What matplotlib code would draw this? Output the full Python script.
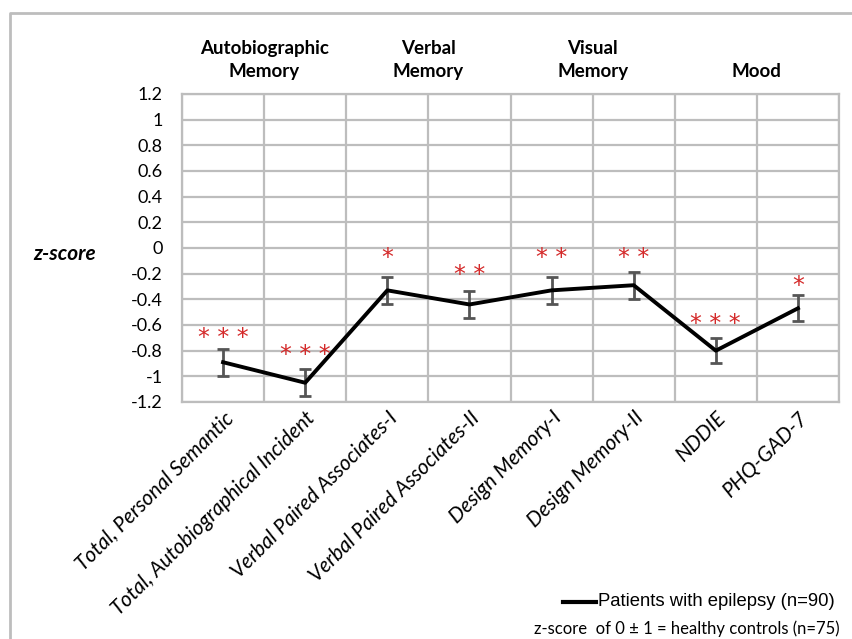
import matplotlib.pyplot as plt
from matplotlib.lines import Line2D

tests = ['Total, Personal Semantic', 'Total, Autobiographical Incident',
         'Verbal Paired Associates-I', 'Verbal Paired Associates-II',
         'Design Memory-I', 'Design Memory-II', 'NDDIE', 'PHQ-GAD-7']
zscore = [-0.89, -1.05, -0.33, -0.44, -0.33, -0.29, -0.80, -0.47]
err = [0.105, 0.105, 0.105, 0.105, 0.105, 0.105, 0.10, 0.10]
stars = ['***', '***', '*', '**', '**', '**', '***', '*']
star_y = [-0.70, -0.83, -0.08, -0.21, -0.08, -0.08, -0.59, -0.30]
groups = ['Autobiographic\nMemory', 'Verbal\nMemory', 'Visual\nMemory', 'Mood']

fig = plt.figure(figsize=(8.52, 6.39), dpi=100)
ax = fig.add_axes([182/852, 1-402/639, (839-182)/852, (402-94)/639])

x = list(range(len(tests)))
ax.errorbar(x, zscore, yerr=err, fmt='none', ecolor='#555555', elinewidth=2,
            capsize=4, capthick=2, zorder=3)
ax.plot(x, zscore, color='black', lw=2.8, zorder=4)
for i in x:
    ax.text(i, star_y[i], ' '.join(stars[i]),
            ha='center', va='center', color='#d42a2a', fontsize=17,
            family='DejaVu Sans')

ax.set_xlim(-0.5, 7.5)
ax.set_ylim(-1.2, 1.2)
ax.set_yticks([-1.2, -1, -0.8, -0.6, -0.4, -0.2, 0, 0.2, 0.4, 0.6, 0.8, 1, 1.2])
ax.set_yticklabels(['-1.2', '-1', '-0.8', '-0.6', '-0.4', '-0.2', '0', '0.2', '0.4',
                    '0.6', '0.8', '1', '1.2'], family='Lato', fontsize=13)
ax.set_xticks([i + 0.5 for i in range(-1, 8)], minor=True)
ax.set_xticks(x)
ax.set_xticklabels(tests, rotation=45, ha='right', rotation_mode='anchor',
                   style='italic', family='Lato', fontsize=15)
ax.tick_params(axis='x', which='both', length=0, pad=4)
ax.tick_params(axis='y', length=0, pad=14)
ax.grid(True, which='minor', axis='x', color='#bdbdbd', lw=1.6)
ax.grid(True, which='major', axis='y', color='#bdbdbd', lw=1.6)
for s in ax.spines.values():
    s.set_color('#bdbdbd')
    s.set_linewidth(1.6)

for k, g in enumerate(groups):
    ax.text(2*k + 0.5, 1.31, g, ha='center', va='bottom', fontsize=13.5,
            fontweight='bold', family='Lato', linespacing=1.45)

fig.text(65/852, 1-254/639, 'z-score', ha='center', va='center', fontsize=15,
         fontweight='bold', style='italic', family='Lato')

# frame around figure
fig.add_artist(Line2D([10/852, 10/852, 1.0], [0, 1-13/639, 1-13/639],
                      color='#bdbdbd', lw=2, transform=fig.transFigure))

fig.add_artist(Line2D([563/852, 596/852], [1-602/639, 1-602/639], color='black',
                      lw=3, transform=fig.transFigure))
fig.text(598/852, 1-602/639, 'Patients with epilepsy (n=90)', ha='left',
         va='center', fontsize=13.3, family='Liberation Sans')
fig.text(840/852, 1-629/639, 'z-score  of 0 \u00b1 1 = healthy controls (n=75)',
         ha='right', va='center', fontsize=12, family='Lato')

fig.savefig('out.png', dpi=100)
